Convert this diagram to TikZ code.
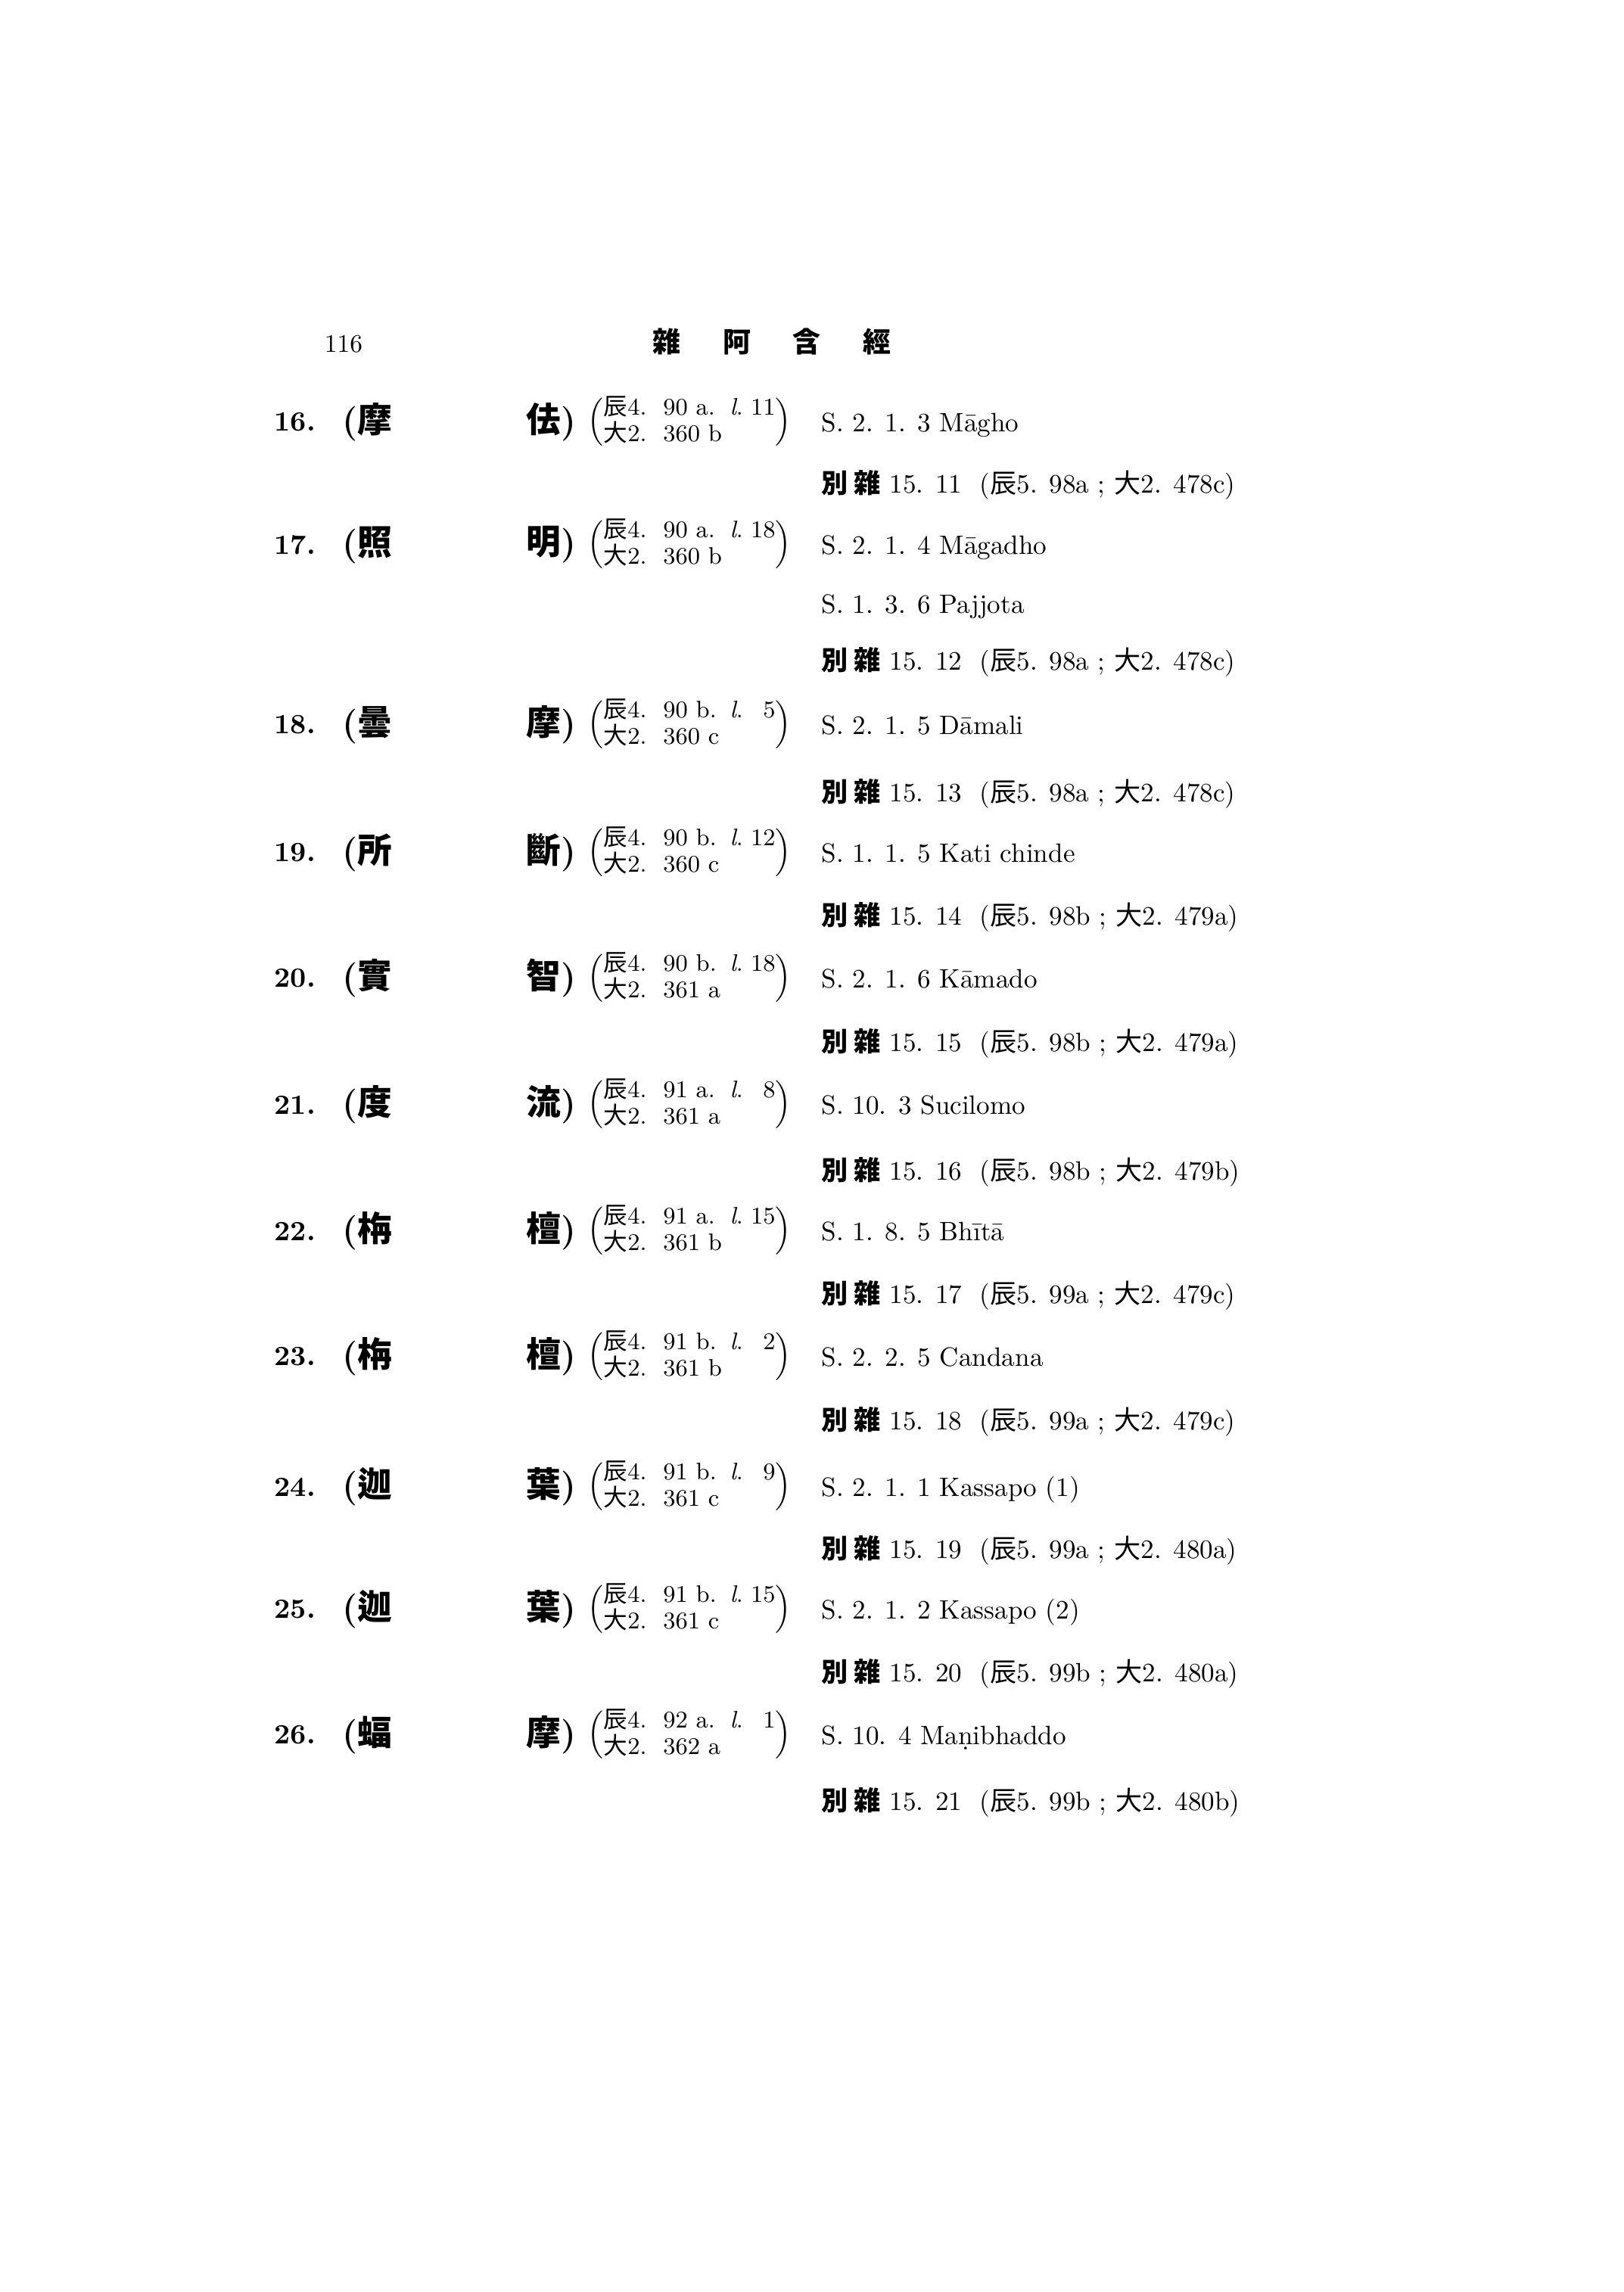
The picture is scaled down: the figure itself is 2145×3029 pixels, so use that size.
\documentclass[tikz,border=0pt]{standalone}
\usepackage{fontspec}
\newfontfamily\cjk{Noto Sans CJK JP}
\newcommand{\refpair}[2]{$\left(\begin{tabular}{@{}p{22.7mm}@{}}#1\\#2\end{tabular}\right)$}

\begin{document}
\begin{tikzpicture}[x=0.1mm, y=-0.1mm]
      \tikzstyle{num} = [anchor=west, inner sep=0pt, font=\fontsize{10.5}{12}\selectfont\bfseries]
      \tikzstyle{name left} = [anchor=west, inner sep=0pt, font=\fontsize{13}{13}\selectfont\bfseries]
      \tikzstyle{name right} = [anchor=east, inner sep=0pt, font=\fontsize{13}{13}\selectfont\bfseries]
      \tikzstyle{ref} = [anchor=west, inner sep=0pt, font=\fontsize{9}{8.2}\selectfont]
      \tikzstyle{pali} = [anchor=base west, inner sep=0pt, font=\fontsize{10}{12}\selectfont]
      \path[use as bounding box, fill=white] (0,0) rectangle (2145,3029);

      %header
      \node[inner sep=0pt, font=\fontsize{9.5}{11}\selectfont] (page) at (454,455) {116};
      \node[inner sep=0pt, font=\fontsize{10.5}{11}\selectfont\cjk\bfseries] (title) at (1020,451)
         {雜\hspace{5.6mm}阿\hspace{5.6mm}含\hspace{5.6mm}經};

      %16
      \node[num]        (n16) at (362,558)  {16.};
      \node[name left]  (a16) at (452,558)  {({\cjk 摩}};
      \node[name right] (b16) at (762,558)  {{\cjk 佉})};
      \node[ref]        (r16) at (776,558)  {\refpair{\makebox[16.7mm][l]{{\cjk 辰}4.\ \ 90 a.}\textit{l}.\hfill 11}{{\cjk 大}2.\ \ 360 b}};
      \node[pali]       (s16) at (1085,570) {S. 2. 1. 3 Māgho};
      \node[pali]       (t16) at (1085,652) {{\cjk\bfseries 別 雜} 15. 11\ \ ({\cjk 辰}5. 98a ; {\cjk 大}2. 478c)};

      %17
      \node[num]        (n17) at (362,720)  {17.};
      \node[name left]  (a17) at (452,720)  {({\cjk 照}};
      \node[name right] (b17) at (762,720)  {{\cjk 明})};
      \node[ref]        (r17) at (776,720)  {\refpair{\makebox[16.7mm][l]{{\cjk 辰}4.\ \ 90 a.}\textit{l}.\hfill 18}{{\cjk 大}2.\ \ 360 b}};
      \node[pali]       (s17) at (1085,732) {S. 2. 1. 4 Māgadho};
      \node[pali]       (u17) at (1085,810) {S. 1. 3. 6 Pajjota};
      \node[pali]       (t17) at (1085,885) {{\cjk\bfseries 別 雜} 15. 12\ \ ({\cjk 辰}5. 98a ; {\cjk 大}2. 478c)};

      %18
      \node[num]        (n18) at (362,958)  {18.};
      \node[name left]  (a18) at (452,958)  {({\cjk 曇}};
      \node[name right] (b18) at (762,958)  {{\cjk 摩})};
      \node[ref]        (r18) at (776,958)  {\refpair{\makebox[16.7mm][l]{{\cjk 辰}4.\ \ 90 b.}\textit{l}.\hfill 5}{{\cjk 大}2.\ \ 360 c}};
      \node[pali]       (s18) at (1085,970) {S. 2. 1. 5 Dāmali};
      \node[pali]       (t18) at (1085,1059) {{\cjk\bfseries 別 雜} 15. 13\ \ ({\cjk 辰}5. 98a ; {\cjk 大}2. 478c)};

      %19
      \node[num]        (n19) at (362,1127) {19.};
      \node[name left]  (a19) at (452,1127) {({\cjk 所}};
      \node[name right] (b19) at (762,1127) {{\cjk 斷})};
      \node[ref]        (r19) at (776,1127) {\refpair{\makebox[16.7mm][l]{{\cjk 辰}4.\ \ 90 b.}\textit{l}.\hfill 12}{{\cjk 大}2.\ \ 360 c}};
      \node[pali]       (s19) at (1085,1139) {S. 1. 1. 5 Kati chinde};
      \node[pali]       (t19) at (1085,1222) {{\cjk\bfseries 別 雜} 15. 14\ \ ({\cjk 辰}5. 98b ; {\cjk 大}2. 479a)};

      %20
      \node[num]        (n20) at (362,1293) {20.};
      \node[name left]  (a20) at (452,1293) {({\cjk 實}};
      \node[name right] (b20) at (762,1293) {{\cjk 智})};
      \node[ref]        (r20) at (776,1293) {\refpair{\makebox[16.7mm][l]{{\cjk 辰}4.\ \ 90 b.}\textit{l}.\hfill 18}{{\cjk 大}2.\ \ 361 a}};
      \node[pali]       (s20) at (1085,1305) {S. 2. 1. 6 Kāmado};
      \node[pali]       (t20) at (1085,1389) {{\cjk\bfseries 別 雜} 15. 15\ \ ({\cjk 辰}5. 98b ; {\cjk 大}2. 479a)};

      %21
      \node[num]        (n21) at (362,1460) {21.};
      \node[name left]  (a21) at (452,1460) {({\cjk 度}};
      \node[name right] (b21) at (762,1460) {{\cjk 流})};
      \node[ref]        (r21) at (776,1460) {\refpair{\makebox[16.7mm][l]{{\cjk 辰}4.\ \ 91 a.}\textit{l}.\hfill 8}{{\cjk 大}2.\ \ 361 a}};
      \node[pali]       (s21) at (1085,1472) {S. 10. 3 Sucilomo};
      \node[pali]       (t21) at (1085,1559) {{\cjk\bfseries 別 雜} 15. 16\ \ ({\cjk 辰}5. 98b ; {\cjk 大}2. 479b)};

      %22
      \node[num]        (n22) at (362,1627) {22.};
      \node[name left]  (a22) at (452,1627) {({\cjk 栴}};
      \node[name right] (b22) at (762,1627) {{\cjk 檀})};
      \node[ref]        (r22) at (776,1627) {\refpair{\makebox[16.7mm][l]{{\cjk 辰}4.\ \ 91 a.}\textit{l}.\hfill 15}{{\cjk 大}2.\ \ 361 b}};
      \node[pali]       (s22) at (1085,1639) {S. 1. 8. 5 Bhītā};
      \node[pali]       (t22) at (1085,1722) {{\cjk\bfseries 別 雜} 15. 17\ \ ({\cjk 辰}5. 99a ; {\cjk 大}2. 479c)};

      %23
      \node[num]        (n23) at (362,1793) {23.};
      \node[name left]  (a23) at (452,1793) {({\cjk 栴}};
      \node[name right] (b23) at (762,1793) {{\cjk 檀})};
      \node[ref]        (r23) at (776,1793) {\refpair{\makebox[16.7mm][l]{{\cjk 辰}4.\ \ 91 b.}\textit{l}.\hfill 2}{{\cjk 大}2.\ \ 361 b}};
      \node[pali]       (s23) at (1085,1805) {S. 2. 2. 5 Candana};
      \node[pali]       (t23) at (1085,1889) {{\cjk\bfseries 別 雜} 15. 18\ \ ({\cjk 辰}5. 99a ; {\cjk 大}2. 479c)};

      %24
      \node[num]        (n24) at (362,1965) {24.};
      \node[name left]  (a24) at (452,1965) {({\cjk 迦}};
      \node[name right] (b24) at (762,1965) {{\cjk 葉})};
      \node[ref]        (r24) at (776,1965) {\refpair{\makebox[16.7mm][l]{{\cjk 辰}4.\ \ 91 b.}\textit{l}.\hfill 9}{{\cjk 大}2.\ \ 361 c}};
      \node[pali]       (s24) at (1085,1977) {S. 2. 1. 1 Kassapo (1)};
      \node[pali]       (t24) at (1085,2059) {{\cjk\bfseries 別 雜} 15. 19\ \ ({\cjk 辰}5. 99a ; {\cjk 大}2. 480a)};

      %25
      \node[num]        (n25) at (362,2127) {25.};
      \node[name left]  (a25) at (452,2127) {({\cjk 迦}};
      \node[name right] (b25) at (762,2127) {{\cjk 葉})};
      \node[ref]        (r25) at (776,2127) {\refpair{\makebox[16.7mm][l]{{\cjk 辰}4.\ \ 91 b.}\textit{l}.\hfill 15}{{\cjk 大}2.\ \ 361 c}};
      \node[pali]       (s25) at (1085,2139) {S. 2. 1. 2 Kassapo (2)};
      \node[pali]       (t25) at (1085,2222) {{\cjk\bfseries 別 雜} 15. 20\ \ ({\cjk 辰}5. 99b ; {\cjk 大}2. 480a)};

      %26
      \node[num]        (n26) at (362,2293) {26.};
      \node[name left]  (a26) at (452,2293) {({\cjk 蝠}};
      \node[name right] (b26) at (762,2293) {{\cjk 摩})};
      \node[ref]        (r26) at (776,2293) {\refpair{\makebox[16.7mm][l]{{\cjk 辰}4.\ \ 92 a.}\textit{l}.\hfill 1}{{\cjk 大}2.\ \ 362 a}};
      \node[pali]       (s26) at (1085,2305) {S. 10. 4 Maṇibhaddo};
      \node[pali]       (t26) at (1085,2392) {{\cjk\bfseries 別 雜} 15. 21\ \ ({\cjk 辰}5. 99b ; {\cjk 大}2. 480b)};
\end{tikzpicture}
\end{document}
